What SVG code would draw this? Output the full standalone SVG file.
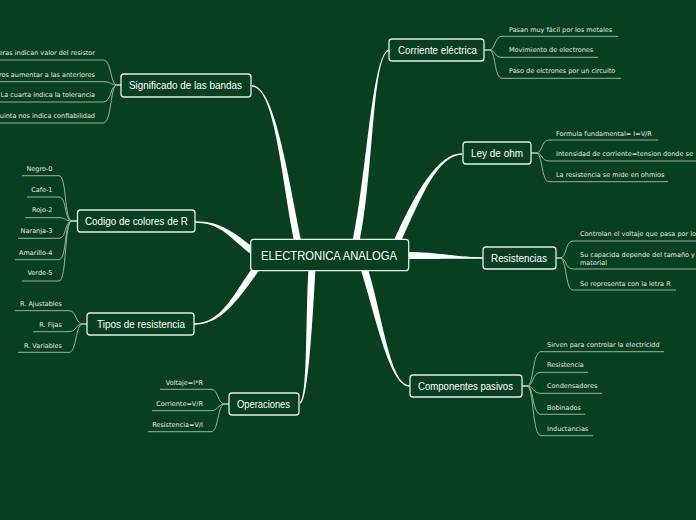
<svg xmlns="http://www.w3.org/2000/svg" width="696" height="520" viewBox="0 0 696 520">
<style>
.bg{fill:#073f20}
.box{fill:#073f20;stroke:#e6eee6;stroke-width:1.3}
.main{fill:#ffffff}
.leaf{fill:none;stroke:#a9bfa9;stroke-width:0.9}
.t{font-family:"Liberation Sans",Arial,sans-serif;font-size:10px;fill:#ffffff}
.c{font-family:"Liberation Sans",Arial,sans-serif;font-size:12.5px;fill:#ffffff}
.l{font-family:"DejaVu Sans",Verdana,sans-serif;font-size:6.5px;fill:#e2eae2}
.r{text-anchor:end}
</style>
<rect class="bg" x="0" y="0" width="696" height="520"/>
<g id="connectors">
  <path class="main" d="M252,86.8 C275,86.8 281.6,180.7 294.6,242.7 L301.4,241.3 C288.4,179.3 275,85.2 252,85.2 Z"/>
  <path class="main" d="M390,49.2 C372,49.2 367.6,169.3 352.6,241.3 L359.4,242.7 C374.4,170.7 372,50.8 390,50.8 Z"/>
  <path class="main" d="M462,153.2 C438,153.2 414.8,193.6 393.8,240.6 L400.2,243.4 C421.2,196.4 438,154.8 462,154.8 Z"/>
  <path class="main" d="M195,222.8 C222,222.8 229.9,238.8 251.9,254.8 L256.1,249.2 C234.1,233.2 222,221.2 195,221.2 Z"/>
  <path class="main" d="M194,324.8 C222,324.8 238.8,298.1 260.8,268.1 L255.2,263.9 C233.2,293.9 222,323.2 194,323.2 Z"/>
  <path class="main" d="M300.3,403.8 C308.3,400.8 312.5,320.2 315.5,268.2 L308.5,267.8 C305.5,319.8 307.7,399.2 299.7,402.2 Z"/>
  <path class="main" d="M410,385.2 C390,385.2 383.4,319 367.4,267 L360.7,269 C376.7,321 390,386.8 410,386.8 Z"/>
  <path class="main" d="M483,257.2 C455,257.2 440,252 406,252 L406,259 C440,259 455,258.8 483,258.8 Z"/>
  <!-- Corriente eléctrica leaves -->
  <path class="leaf" d="M484,50 L489,50 C496,50 494,36.3 502,36.3 L618,36.3"/>
  <path class="leaf" d="M484,50 L489,50 C496,50 494,57.3 502,57.3 L598,57.3"/>
  <path class="leaf" d="M484,50 L489,50 C496,50 494,78.3 502,78.3 L621,78.3"/>
  <!-- Ley de ohm leaves -->
  <path class="leaf" d="M531,153 L536,153 C543,153 541,140 549,140 L658,140"/>
  <path class="leaf" d="M531,153 L536,153 C543,153 541,161 549,161 L696,161"/>
  <path class="leaf" d="M531,153 L536,153 C543,153 541,181.7 549,181.7 L668,181.7"/>
  <!-- Resistencias leaves -->
  <path class="leaf" d="M556,258 L560,258 C567,258 565,241 573,241 L696,241"/>
  <path class="leaf" d="M556,258 L560,258 C567,258 565,269 573,269 L696,269"/>
  <path class="leaf" d="M556,258 L560,258 C567,258 565,290 573,290 L676,290"/>
  <!-- Componentes pasivos leaves -->
  <path class="leaf" d="M522,386 L527,386 C534,386 532,351.7 541,351.7 L664,351.7"/>
  <path class="leaf" d="M522,386 L527,386 C534,386 532,372.3 541,372.3 L588,372.3"/>
  <path class="leaf" d="M522,386 L527,386 C534,386 532,393.3 541,393.3 L602,393.3"/>
  <path class="leaf" d="M522,386 L527,386 C534,386 532,414.3 541,414.3 L585,414.3"/>
  <path class="leaf" d="M522,386 L527,386 C534,386 532,435.7 541,435.7 L593,435.7"/>
  <!-- Significado leaves -->
  <path class="leaf" d="M121,85 L117,85 C110,85 112,60 103,60 L0,60"/>
  <path class="leaf" d="M121,85 L117,85 C110,85 112,81.7 103,81.7 L0,81.7"/>
  <path class="leaf" d="M121,85 L117,85 C110,85 112,102 103,102 L0,102"/>
  <path class="leaf" d="M121,85 L117,85 C110,85 112,123 103,123 L0,123"/>
  <!-- Codigo leaves -->
  <path class="leaf" d="M77,221 L72,221 C64,221 67,175.7 59,175.7 L22,175.7"/>
  <path class="leaf" d="M77,221 L72,221 C64,221 67,197 59,197 L27,197"/>
  <path class="leaf" d="M77,221 L72,221 C64,221 67,217.7 59,217.7 L25,217.7"/>
  <path class="leaf" d="M77,221 L72,221 C64,221 67,238.3 59,238.3 L18,238.3"/>
  <path class="leaf" d="M77,221 L72,221 C64,221 67,259.7 59,259.7 L15,259.7"/>
  <path class="leaf" d="M77,221 L72,221 C64,221 67,281 59,281 L22,281"/>
  <!-- Tipos leaves -->
  <path class="leaf" d="M87,324 L83,324 C75,324 77,310.7 69,310.7 L15,310.7"/>
  <path class="leaf" d="M87,324 L83,324 C75,324 77,331.7 69,331.7 L33,331.7"/>
  <path class="leaf" d="M87,324 L83,324 C75,324 77,352.3 69,352.3 L18,352.3"/>
  <!-- Operaciones leaves -->
  <path class="leaf" d="M229,404 L225,404 C217,404 219,389.3 211,389.3 L160,389.3"/>
  <path class="leaf" d="M229,404 L225,404 C217,404 219,410.7 211,410.7 L152,410.7"/>
  <path class="leaf" d="M229,404 L225,404 C217,404 219,431.7 211,431.7 L148,431.7"/>
</g>
<g id="central">
  <rect class="box" x="250.7" y="239.3" width="158" height="31.4" rx="3"/>
  <text class="c" x="261" y="259.5" textLength="136" lengthAdjust="spacingAndGlyphs">ELECTRONICA ANALOGA</text>
</g>
<g id="significado">
  <rect class="box" x="121" y="74" width="130" height="23" rx="3"/>
  <text class="t" x="129" y="89" textLength="113" lengthAdjust="spacingAndGlyphs">Significado de las bandas</text>
  <text class="l r" x="95" y="55">eras indican valor del resistor</text>
  <text class="l r" x="95" y="76.5">ros aumentar a las anteriores</text>
  <text class="l r" x="95" y="97">La cuarta indica la tolerancia</text>
  <text class="l r" x="95" y="118">uinta nos indica confiabilidad</text>
</g>
<g id="codigo">
  <rect class="box" x="77.5" y="210" width="117.5" height="22" rx="3"/>
  <text class="t" x="85" y="224.5" textLength="103" lengthAdjust="spacingAndGlyphs">Codigo de colores de R</text>
  <text class="l r" x="52.5" y="170.5">Negro-0</text>
  <text class="l r" x="52.5" y="191.5">Cafe-1</text>
  <text class="l r" x="52.5" y="212">Rojo-2</text>
  <text class="l r" x="52.5" y="233">Naranja-3</text>
  <text class="l r" x="52.5" y="254.5">Amarillo-4</text>
  <text class="l r" x="52.5" y="275">Verde-5</text>
</g>
<g id="tipos">
  <rect class="box" x="87" y="313" width="107" height="22" rx="3"/>
  <text class="t" x="97" y="327.5" textLength="88" lengthAdjust="spacingAndGlyphs">Tipos de resistencia</text>
  <text class="l r" x="62" y="306">R. Ajustables</text>
  <text class="l r" x="62" y="327">R. Fijas</text>
  <text class="l r" x="62" y="347.5">R. Variables</text>
</g>
<g id="operaciones">
  <rect class="box" x="229" y="393" width="70" height="22" rx="3"/>
  <text class="t" x="237" y="407.5" textLength="53" lengthAdjust="spacingAndGlyphs">Operaciones</text>
  <text class="l r" x="203" y="384.5">Voltaje=I*R</text>
  <text class="l r" x="203" y="405.5">Corriente=V/R</text>
  <text class="l r" x="203" y="426.5">Resistencia=V/I</text>
</g>
<g id="corriente">
  <rect class="box" x="389" y="39" width="95" height="22" rx="3"/>
  <text class="t" x="398" y="53.5" textLength="79" lengthAdjust="spacingAndGlyphs">Corriente eléctrica</text>
  <text class="l" x="509" y="32">Pasan muy fácil por los metales</text>
  <text class="l" x="509" y="52">Movimiento de electrones</text>
  <text class="l" x="509" y="73">Paso de elctrones por un circuito</text>
</g>
<g id="ley">
  <rect class="box" x="463" y="142" width="68" height="22" rx="3"/>
  <text class="t" x="471" y="156.5" textLength="52" lengthAdjust="spacingAndGlyphs">Ley de ohm</text>
  <text class="l" x="556" y="135.5">Formula fundamental= I=V/R</text>
  <text class="l" x="556" y="156">Intensidad de corriente=tension donde se</text>
  <text class="l" x="556" y="176.5">La resistencia se mide en ohmios</text>
</g>
<g id="resistencias">
  <rect class="box" x="483" y="247" width="73" height="22" rx="3"/>
  <text class="t" x="491" y="261.5" textLength="56" lengthAdjust="spacingAndGlyphs">Resistencias</text>
  <text class="l" x="580" y="236">Controlan el voltaje que pasa por lo</text>
  <text class="l" x="580" y="256.5">Su capacida depende del tamaño y</text>
  <text class="l" x="580" y="265">material</text>
  <text class="l" x="580" y="285.5">Se representa con la letra R</text>
</g>
<g id="componentes">
  <rect class="box" x="410" y="375" width="112" height="22" rx="3"/>
  <text class="t" x="418" y="389.5" textLength="95" lengthAdjust="spacingAndGlyphs">Componentes pasivos</text>
  <text class="l" x="547" y="346.5">Sirven para controlar la electricidd</text>
  <text class="l" x="547" y="367">Resistencia</text>
  <text class="l" x="547" y="388">Condensadores</text>
  <text class="l" x="547" y="409.5">Bobinados</text>
  <text class="l" x="547" y="430.5">Inductancias</text>
</g>
</svg>
